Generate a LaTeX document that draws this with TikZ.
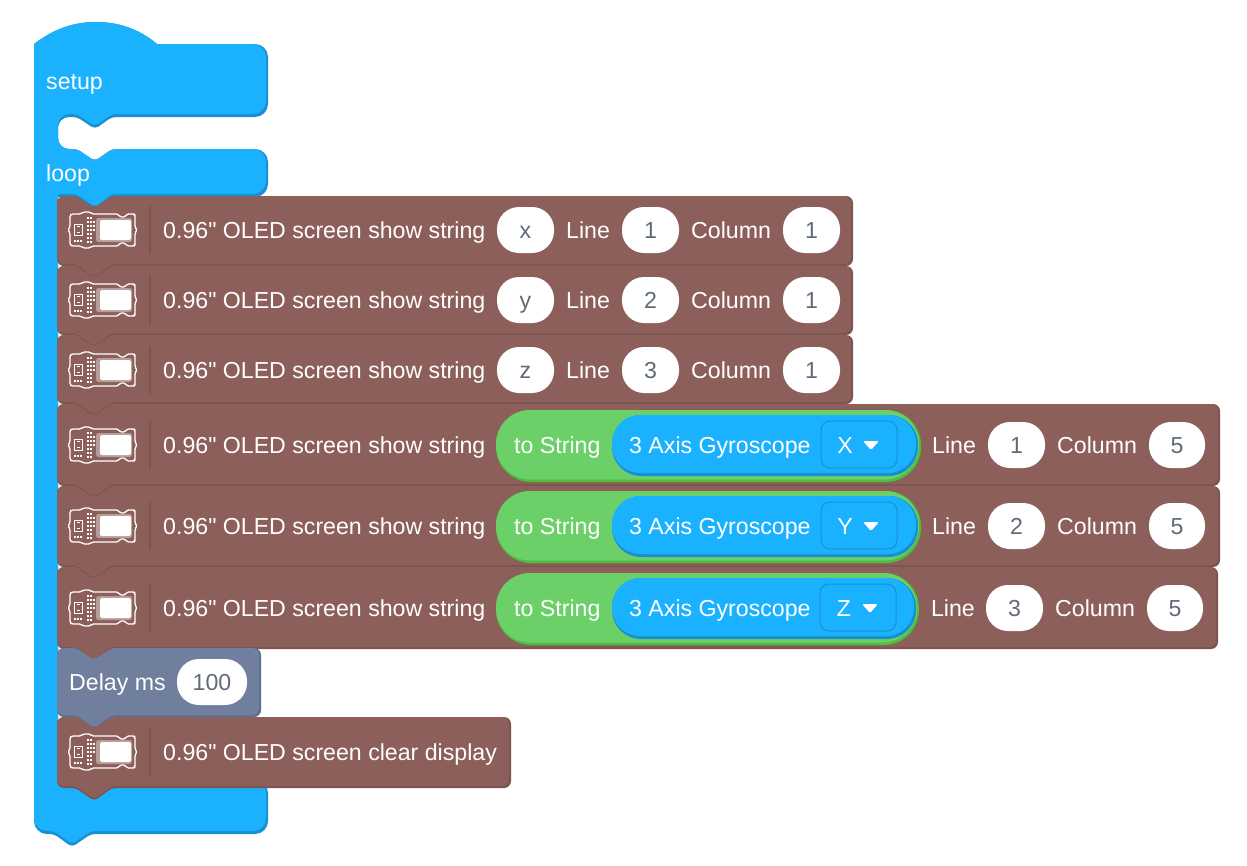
\documentclass[tikz,border=0pt]{standalone}
\usepackage{fontspec}
\newfontfamily\uifont{Liberation Sans}
\definecolor{hatblue}{HTML}{1AB2FF}
\definecolor{hatdark}{HTML}{1A8FD0}
\definecolor{oled}{HTML}{8D5F5A}
\definecolor{oleddark}{HTML}{7E5450}
\definecolor{oledsoft}{HTML}{B89C99}
\definecolor{slateb}{HTML}{717F9F}
\definecolor{slatedark}{HTML}{5F6E90}
\definecolor{strgreen}{HTML}{6BD068}
\definecolor{strdark}{HTML}{4BBF3E}
\definecolor{pilltext}{HTML}{5F6B78}
\definecolor{dropline}{HTML}{1A8FD0}
\tikzset{
  lbl/.style={text=white,font=\uifont\fontsize{23.15}{26}\selectfont,anchor=base west,inner sep=0pt},
  pillbox/.style={fill=white,text=pilltext,font=\uifont\fontsize{23.15}{26}\selectfont,rounded corners=22pt,inner sep=0pt,text height=17pt,text depth=0pt},
  gbody/.style={fill=strgreen,rounded corners=34pt},
  gshade/.style={fill=strdark,rounded corners=35pt},
  bbody/.style={fill=hatblue,rounded corners=28pt},
  bshade/.style={fill=hatdark,rounded corners=29pt},
  dropbox/.style={draw=dropline,line width=1pt,rounded corners=9pt},
  sep/.style={draw=oleddark,line width=1.4pt},
}
% Outline of a stacking statement: left, top, right, bottom
\newcommand{\stackpath}[4]{%
  ({#1},{#2+8}) [rounded corners=7pt] -- ({#1},{#2}) [rounded corners=4pt] -- (76,{#2}) -- (94,{#2+12}) -- (112,{#2})
  [rounded corners=7pt] -- ({#3},{#2}) -- ({#3},{#4}) [rounded corners=4pt] -- (112,{#4}) -- (94,{#4+13}) -- (76,{#4})
  [rounded corners=7pt] -- ({#1},{#4}) -- ({#1},{#2+8}) -- cycle}
\newcommand{\stackblock}[6]{%
  \fill[#5] \stackpath{#1}{#2}{#3}{#4};
  \fill[#6] \stackpath{#1}{#2}{#3-2}{#4-2};}
% Outline of the two-mouth hat block; #1 trims the right edge, #2 the lower edges
\newcommand{\hatpath}[2]{%
  (34,44) .. controls (55,28) and (75,22) .. (96,22) .. controls (117,22) and (138,28) .. (157,44)
  [rounded corners=13pt] -- ({268-#1},44) -- ({268-#1},{117-#2})
  [rounded corners=4pt] -- (112,{117-#2}) -- (95,{129-#2}) -- (77,{117-#2})
  [rounded corners=11pt] -- (58,{117-#2}) -- (58,149)
  [rounded corners=4pt] -- (77,149) -- (95,161) -- (112,149)
  [rounded corners=13pt] -- ({268-#1},149) -- ({268-#1},{197-#2})
  [rounded corners=4pt] -- (112,{197-#2}) -- (95,{210-#2}) -- (77,{197-#2})
  [sharp corners] -- (58,{197-#2}) -- (58,780)
  -- ({200},780) [rounded corners=13pt] -- ({268-#1},780) -- ({268-#1},{834-#2})
  [rounded corners=4pt] -- (91,{834-#2}) -- (72,{847-#2}) -- (54,{834-#2})
  [rounded corners=13pt] -- (34,{834-#2}) [sharp corners] -- (34,100) -- cycle}
% Circuit board pictogram centred on height #1
\newcommand{\oledicon}[1]{%
  \begin{scope}[shift={(69,{#1-18})}]
    \draw[white,line width=1.3pt,line join=round,rounded corners=1.5pt]
      (3,2) -- (12,2) -- (14,0) -- (21,0) -- (23,2) -- (49,2) -- (51,5) -- (56,5) -- (58,2) -- (65,2)
      -- (66,3) -- (66,15) -- (68,18) -- (66,21) -- (66,33) -- (65,34) -- (58,34) -- (56,31) -- (51,31) -- (49,34)
      -- (23,34) -- (21,36) -- (14,36) -- (12,34) -- (3,34) -- (1,33) -- (1,21) -- (-1,18) -- (1,15) -- (1,3) -- cycle;
    \fill[oledsoft,rounded corners=2.5pt] (27,6) rectangle (63,30);
    \fill[white,rounded corners=2pt] (31,8) rectangle (62,28);
    \draw[white,line width=1pt] (5,12) rectangle (13,23);
    \draw[white,line width=.8pt] (8,14.5) -- (11,14.5) (8,20.5) -- (11,20.5);
    \foreach \px/\py in {18/5,21/5,18/9,21/9,24/9,18/13,21/13,24/13,18/17,21/17,24/17,18/21,21/21,18/25,21/25,18/29,21/29}
      \fill[white] (\px,\py) rectangle ++(2.2,2.2);
    \foreach \px in {5,8,11} \fill[white] (\px,27.5) rectangle ++(2.3,2.3);
  \end{scope}}
% Pill input: name, left, right, centre height, value
\newcommand{\pillin}[5]{%
  \node[pillbox,minimum width={(#3)-(#2)},minimum height=46pt] (#1) at ({((#2)+(#3))/2},{#4}) {#5};}
% Icon, divider and leading caption of a display statement
\newcommand{\oledhead}[3]{%
  \oledicon{#2}
  \draw[sep] (150,{#2-24}) -- (150,{#2+24});
  \node[lbl] (#1) at (163,{#2+8}) {#3};}
% Captions and inputs of a plain string row
\newcommand{\plainrow}[5]{%
  \oledhead{#1cap}{#2}{0.96" OLED screen show string}
  \pillin{#1s}{497}{554}{#2}{#3}
  \node[lbl] (#1line) at (566,{#2+8}) {Line};
  \pillin{#1l}{622}{679}{#2}{#4}
  \node[lbl] (#1col) at (691,{#2+8}) {Column};
  \pillin{#1c}{783}{840}{#2}{#5}}
% Row carrying a nested gyroscope reporter: name, centre, x shift, axis, line
\newcommand{\gyrorow}[5]{%
  \oledhead{#1cap}{#2}{0.96" OLED screen show string}
  \fill[gshade] (496,{#2-35}) rectangle ({921+(#3)},{#2+37});
  \fill[gbody] (496,{#2-35}) rectangle ({919+(#3)},{#2+34.5});
  \node[lbl] (#1str) at (514,{#2+8}) {to String};
  \fill[bshade] (612,{#2-30}) rectangle ({918+(#3)},{#2+31});
  \fill[bbody] (612,{#2-30}) rectangle ({916+(#3)},{#2+28});
  \node[lbl] (#1gyr) at (629,{#2+8}) {3 Axis Gyroscope};
  \draw[dropbox] ({821+(#3)/2},{#2-24}) rectangle ({897+(#3)/2},{#2+23});
  \node[lbl,anchor=base] (#1axis) at ({845+(#3)/2},{#2+8}) {#4};
  \fill[white,rounded corners=1.5pt] ({863+(#3)/2},{#2-4}) -- ({879+(#3)/2},{#2-4}) -- ({871+(#3)/2},{#2+5}) -- cycle;
  \node[lbl] (#1line) at ({932+(#3)*.6},{#2+8}) {Line};
  \pillin{#1l}{988+(#3)}{1045+(#3)}{#2}{#5}
  \node[lbl] (#1col) at ({1057+(#3)},{#2+8}) {Column};
  \pillin{#1c}{1149+(#3)}{1205+(#3)}{#2}{5}}
\begin{document}
\begin{tikzpicture}[x=1pt,y=-1pt]
  \useasboundingbox (0,0) rectangle (1247,865);
  \fill[white] (0,0) rectangle (1247,865);
  % Enclosing setup/loop block
  \fill[hatdark] \hatpath{0}{0};
  \fill[hatblue] \hatpath{2}{3};
  \node[lbl] (setup) at (46,89) {setup};
  \node[lbl] (loop) at (46,181) {loop};
  % Statement stack, top to bottom
  \stackblock{57}{196}{853}{266}{oleddark}{oled}
  \plainrow{ra}{230}{x}{1}{1}
  \stackblock{57}{266}{853}{335}{oleddark}{oled}
  \plainrow{rb}{300}{y}{2}{1}
  \stackblock{57}{335}{853}{404}{oleddark}{oled}
  \plainrow{rc}{370}{z}{3}{1}
  \stackblock{57}{404}{1220}{486}{oleddark}{oled}
  \gyrorow{rd}{445}{0}{X}{1}
  \stackblock{57}{486}{1220}{567}{oleddark}{oled}
  \gyrorow{re}{526}{0}{Y}{2}
  \stackblock{57}{567}{1218}{649}{oleddark}{oled}
  \gyrorow{rf}{608}{-2}{Z}{3}
  \stackblock{57}{648}{261}{717}{slatedark}{slateb}
  \node[lbl] (delay) at (69,690) {Delay ms};
  \pillin{delayval}{177}{247}{682}{100}
  \stackblock{57}{717}{511}{788}{oleddark}{oled}
  \oledhead{clear}{752}{0.96" OLED screen clear display}
\end{tikzpicture}
\end{document}
